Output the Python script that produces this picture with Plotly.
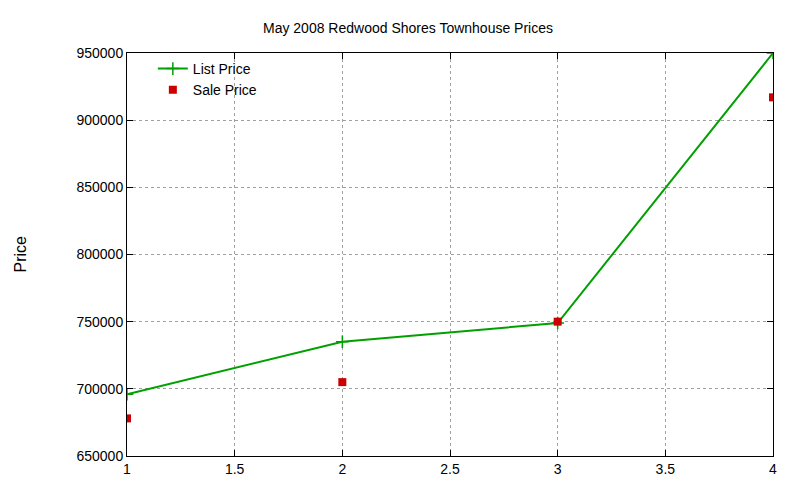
import plotly.graph_objects as go

weeks = [1, 2, 3, 4]
list_price = [696000, 735000, 749000, 950000]
sale_price = [678000, 705000, 750000, 917000]

fig = go.Figure()
fig.add_trace(go.Scatter(x=weeks, y=list_price, mode="lines+markers", name="List Price",
                         line=dict(color="#00a000", width=2),
                         marker=dict(symbol="cross-thin", size=9, line=dict(color="#00a000", width=1.5))))
fig.add_trace(go.Scatter(x=weeks, y=sale_price, mode="markers", name="Sale Price",
                         marker=dict(symbol="square", size=8, color="#cc0000")))

ax = dict(showline=True, mirror="ticks", linecolor="black", linewidth=1, ticks="inside",
          ticklen=6, tickcolor="black", showgrid=True, gridcolor="#a0a0a0", griddash="dot",
          gridwidth=1, zeroline=False, tickfont=dict(size=14, color="black"), automargin=False)
fig.update_layout(
    width=800, height=480, paper_bgcolor="white", plot_bgcolor="white",
    font=dict(family="Liberation Sans, Arial, sans-serif", size=14, color="black"),
    margin=dict(l=119, r=35, t=45, b=32, autoexpand=False),
    title=dict(text="May 2008 Redwood Shores Townhouse Prices", x=0.5, xanchor="center",
               y=1 - 20 / 480, yanchor="middle", font=dict(size=14)),
    xaxis=dict(range=[1, 4], dtick=0.5, **ax),
    yaxis=dict(range=[650000, 950000], dtick=50000, tickformat="d", **ax),
    legend=dict(x=0.04, y=1.0, xanchor="left", yanchor="top", bgcolor="rgba(0,0,0,0)",
                font=dict(size=14), tracegroupgap=0),
    annotations=[dict(text="Price", xref="paper", yref="paper", x=-107 / 646, y=0.5,
                      xanchor="center", yanchor="middle", textangle=-90, showarrow=False,
                      font=dict(size=16))],
)
fig.write_html("out.html")
